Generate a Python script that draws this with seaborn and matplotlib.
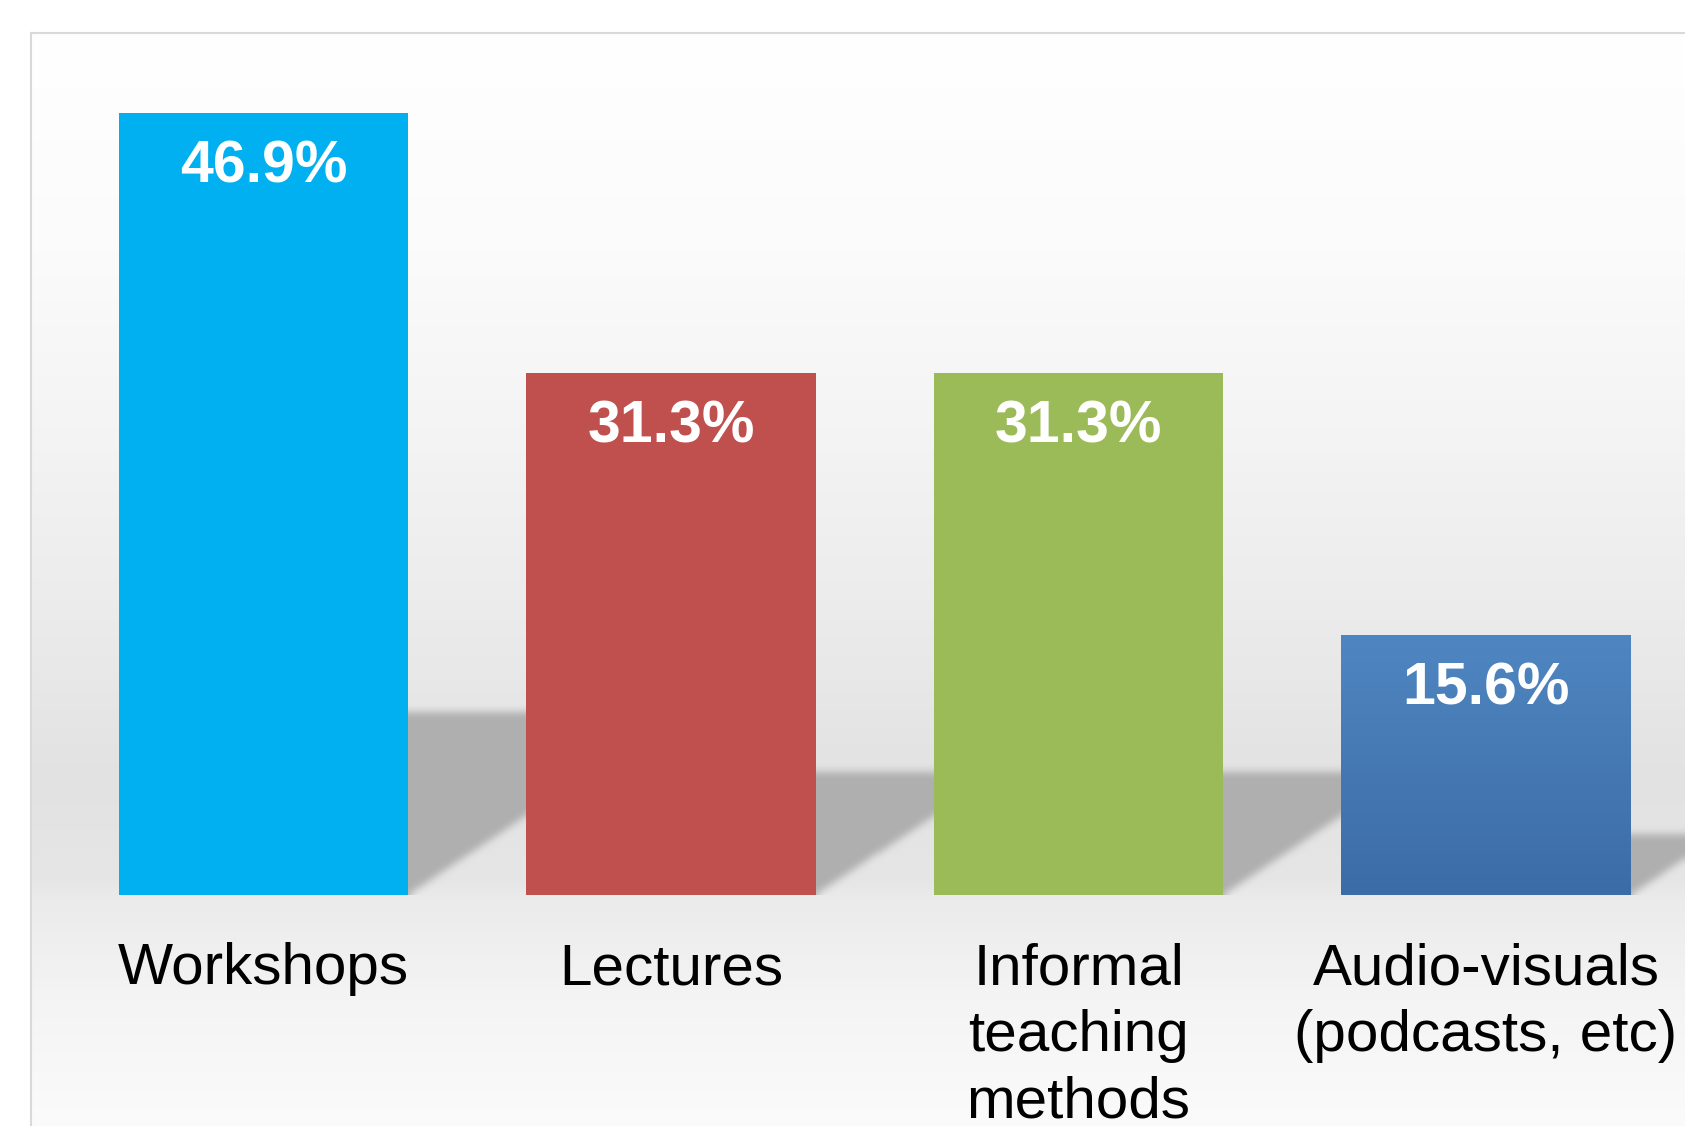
import numpy as np
import matplotlib.pyplot as plt
import seaborn as sns

categories = ['Workshops', 'Lectures', 'Informal\nteaching\nmethods',
              'Audio-visuals\n(podcasts, etc)']
shares = [46.9, 31.3, 31.3, 15.6]
bar_colors = ['#00B0F0', '#C0504D', '#9BBB59', '#4F81BD']

sns.set_style('white')
plt.rcParams['font.family'] = ['Liberation Sans', 'DejaVu Sans']

W, H = 1685, 1126
fig = plt.figure(figsize=(W / 100, H / 100), dpi=100)
fig.patch.set_facecolor('white')

# framed background with a soft vertical grey gradient
bg = fig.add_axes([31 / W, 0, (W - 31) / W, (H - 33) / H])
ypx = np.arange(33, H)
stops_y = [33, 250, 450, 600, 780, 880, 900, 1000, 1126]
stops_v = [255, 251, 243, 236, 226, 230, 235, 244, 251]
grad = np.interp(ypx, stops_y, stops_v) / 255
bg_img = np.repeat(np.tile(grad[:, None], (1, W - 31))[..., None], 3, axis=2)
bg.imshow(bg_img, extent=(0, 1, 0, 1), aspect='auto', interpolation='nearest')
bg.set_xticks([])
bg.set_yticks([])
for side in ['right', 'bottom']:
    bg.spines[side].set_visible(False)
for side in ['left', 'top']:
    bg.spines[side].set_color('#d9d9d9')
    bg.spines[side].set_linewidth(1.5)

# main chart axes
ax = fig.add_axes([59.75 / W, (H - 895) / H, (W - 59.75) / W, 833.5 / H])
ax.set_facecolor('none')
sns.barplot(x=categories, y=shares, hue=categories, palette=bar_colors,
            saturation=1, width=0.71, legend=False, ax=ax,
            edgecolor='none', linewidth=0)
xlim = (-0.5, -0.5 + (W - 59.75) / 407.5)
ylim = (0, 50)

# soft floor shadows cast to the right of each bar
nx, ny = 1625, 834
X, Y = np.meshgrid(np.linspace(*xlim, nx), np.linspace(*ylim, ny))
mask = np.zeros_like(X)
k = 16.4
for p in ax.patches:
    p.set_zorder(3)
    xr = p.get_x() + p.get_width()
    h = 0.234 * p.get_height()
    m = (X >= xr - 0.05) & (Y <= h) & (Y >= k * (X - xr))
    mask = np.maximum(mask, m.astype(float))


def box(a, r, axis):
    a = np.moveaxis(a, axis, 0)
    pad = np.concatenate([np.repeat(a[:1], r + 1, 0), a, np.repeat(a[-1:], r, 0)])
    c = np.cumsum(pad, axis=0)
    out = (c[2 * r + 1:] - c[:-2 * r - 1]) / (2 * r + 1)
    return np.moveaxis(out, 0, axis)


for _ in range(2):
    mask = box(mask, 4, 0)
    mask = box(mask, 4, 1)
mask = np.round(np.clip(mask, 0, 1), 4)
shadow = np.zeros((ny, nx, 4))
shadow[..., :3] = 0.69
shadow[..., 3] = mask
ax.imshow(shadow, origin='lower', extent=(*xlim, *ylim), aspect='auto',
          interpolation='nearest', zorder=1)

# gradient fill on the last bar
p4 = ax.patches[3]
g = np.linspace(0, 1, 200)[:, None]
top_c = np.array([79, 134, 193]) / 255
bot_c = np.array([60, 108, 166]) / 255
img = (g[..., None] * bot_c + (1 - g[..., None]) * top_c)
gi = ax.imshow(np.repeat(img, 2, axis=1), origin='upper', aspect='auto',
               extent=(p4.get_x(), p4.get_x() + p4.get_width(), 0, p4.get_height()),
               zorder=3.5, interpolation='bilinear')
gi.set_clip_path(p4)

for p, v in zip(ax.patches, shares):
    ax.text(p.get_x() + p.get_width() / 2, v - 3.25, f'{v}%', ha='center',
            va='center', color='white', fontsize=42.5, fontweight='bold', zorder=5)

ax.set_xlim(*xlim)
ax.set_ylim(*ylim)
ax.set_yticks([])
ax.set_xlabel('')
ax.set_ylabel('')
ax.tick_params(axis='x', length=0, pad=34, labelsize=42, labelcolor='black')
for t in ax.get_xticklabels():
    t.set_linespacing(1.3)
sns.despine(ax=ax, left=True, bottom=True)

fig.savefig('out.png', dpi=100)
